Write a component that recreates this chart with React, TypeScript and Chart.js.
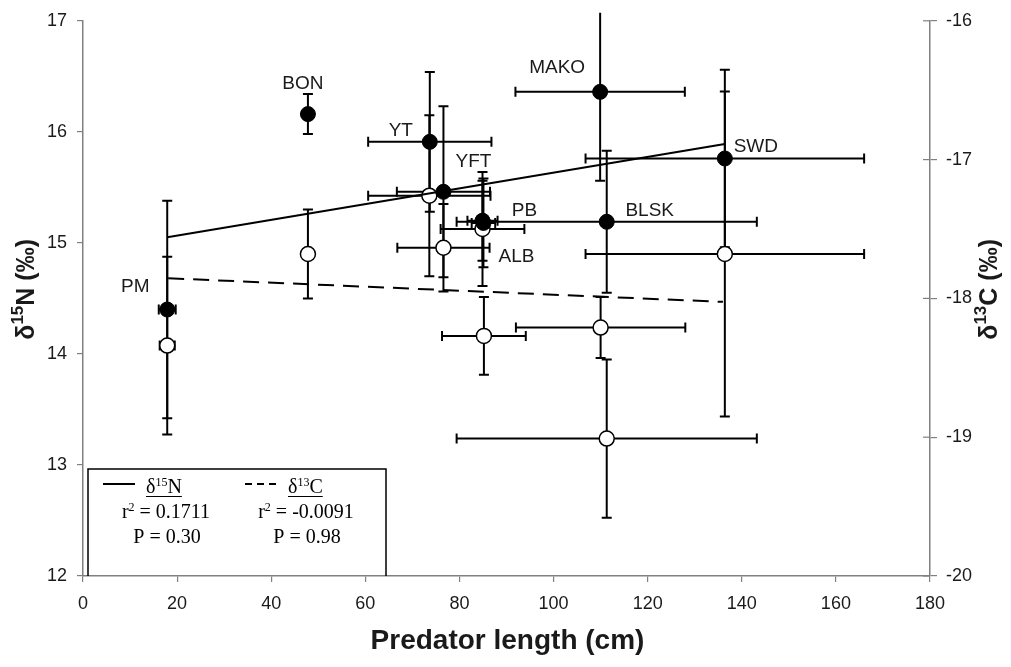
import React, { useEffect, useRef } from 'react';
import { Chart, registerables } from 'chart.js';

Chart.register(...registerables);

// ---------- data ----------
const species = ['PM', 'BON', 'YT', 'YFT', 'PB', 'ALB', 'MAKO', 'BLSK', 'SWD'];

// δ15N (filled circles, left axis)
const lengthN = [17.9, 47.8, 73.7, 76.6, 84.9, 85.1, 109.9, 111.3, 136.4];
const lengthErrN = [1.8, 0, 13.1, 9.9, 3.2, 2.5, 18.0, 31.9, 29.6];
const d15N = [14.4, 16.16, 15.91, 15.46, 15.2, 15.18, 16.36, 15.19, 15.76];
const d15NErr = [0.98, 0.18, 0.63, 0.77, 0.36, 0.4, 0.8, 0.64, 0.8];

// δ13C (open circles, right axis)
const lengthC = [17.9, 47.8, 73.6, 76.6, 84.9, 85.2, 110.0, 111.3, 136.4];
const lengthErrC = [1.6, 0, 13.0, 9.8, 8.9, 8.9, 18.0, 31.9, 29.6];
const d13C = [-18.34, -17.68, -17.26, -17.635, -17.5, -18.27, -18.21, -19.01, -17.68];
const d13CErr = [0.64, 0.32, 0.58, 0.315, 0.41, 0.28, 0.22, 0.57, 1.17];

// regression lines
const fitNx = [17.9, 136.4];
const fitNy = [15.05, 15.89];
const fitCx = [18.1, 136.0];
const fitCy = [-17.855, -18.025];

// axis ranges / ticks
const xTicks = [0, 20, 40, 60, 80, 100, 120, 140, 160, 180];
const yNTicks = [12, 13, 14, 15, 16, 17];
const yCTicks = [-20, -19, -18, -17, -16];

// legend texts
const legendN = { r2: '0.1711', p: '0.30' };
const legendC = { r2: '-0.0091', p: '0.98' };

// ---------- styles (pixel offsets for species labels) ----------
const labelOffsets: [number, number][] = [
  [-32, -23], [-5, -30], [-29, -11], [30, -30], [42, -10], [33, 34], [-43, -24], [43, -11], [31, -12],
];

const SANS = '"Liberation Sans", Arial, sans-serif';
const SERIF = '"Liberation Serif", "Times New Roman", serif';
const AXIS_GREY = '#808080';
const TEXT = '#1a1a1a';

type Part = { t: string; sup?: boolean };

function richWidth(ctx: CanvasRenderingContext2D, parts: Part[], size: number, weight: string, family: string, supRatio: number) {
  let w = 0;
  for (const p of parts) {
    ctx.font = `${weight} ${p.sup ? Math.round(size * supRatio) : size}px ${family}`;
    w += ctx.measureText(p.t).width;
  }
  return w;
}

function drawRich(
  ctx: CanvasRenderingContext2D,
  parts: Part[],
  x: number,
  y: number,
  size: number,
  weight: string,
  family: string,
  align: 'left' | 'center',
  supRatio = 0.62
) {
  const w = richWidth(ctx, parts, size, weight, family, supRatio);
  let cx = align === 'center' ? x - w / 2 : x;
  ctx.textAlign = 'left';
  for (const p of parts) {
    const s = p.sup ? Math.round(size * supRatio) : size;
    ctx.font = `${weight} ${s}px ${family}`;
    ctx.fillText(p.t, cx, p.sup ? y - size * 0.36 : y);
    cx += ctx.measureText(p.t).width;
  }
  return w;
}

const errorBarPlugin = {
  id: 'errorBars',
  beforeDatasetsDraw(chart: any) {
    const ctx: CanvasRenderingContext2D = chart.ctx;
    const xs = chart.scales.x;
    const cap = 5;
    ctx.save();
    ctx.beginPath();
    ctx.rect(0, chart.chartArea.top - 8, chart.width, chart.height);
    ctx.clip();
    ctx.strokeStyle = '#000';
    ctx.lineWidth = 2;
    chart.data.datasets.forEach((ds: any) => {
      if (!ds.errX) return;
      const ys = chart.scales[ds.yAxisID];
      ds.data.forEach((p: any, i: number) => {
        const cy = ys.getPixelForValue(p.y);
        const cx = xs.getPixelForValue(p.x);
        const ex = ds.errX[i];
        const ey = ds.errY[i];
        ctx.beginPath();
        if (ex > 0) {
          const x1 = xs.getPixelForValue(p.x - ex);
          const x2 = xs.getPixelForValue(p.x + ex);
          ctx.moveTo(x1, cy);
          ctx.lineTo(x2, cy);
          ctx.moveTo(x1, cy - cap);
          ctx.lineTo(x1, cy + cap);
          ctx.moveTo(x2, cy - cap);
          ctx.lineTo(x2, cy + cap);
        }
        if (ey > 0) {
          const y1 = ys.getPixelForValue(p.y + ey);
          const y2 = ys.getPixelForValue(p.y - ey);
          ctx.moveTo(cx, y1);
          ctx.lineTo(cx, y2);
          if (p.y + ey <= ys.max) {
            ctx.moveTo(cx - cap, y1);
            ctx.lineTo(cx + cap, y1);
          }
          ctx.moveTo(cx - cap, y2);
          ctx.lineTo(cx + cap, y2);
        }
        ctx.stroke();
      });
    });
    ctx.restore();
  },
};

const decorPlugin = {
  id: 'decor',
  afterDraw(chart: any) {
    const ctx: CanvasRenderingContext2D = chart.ctx;
    const area = chart.chartArea;
    const xs = chart.scales.x;
    const yN = chart.scales.y;
    const y2 = chart.scales.y2;
    ctx.save();

    // inward ticks on right axis
    ctx.strokeStyle = AXIS_GREY;
    ctx.lineWidth = 1.2;
    yCTicks.forEach((v) => {
      const py = y2.getPixelForValue(v);
      ctx.beginPath();
      ctx.moveTo(area.right - 7, py);
      ctx.lineTo(area.right, py);
      ctx.stroke();
    });

    // species labels
    ctx.fillStyle = TEXT;
    ctx.font = `19px ${SANS}`;
    ctx.textAlign = 'center';
    ctx.textBaseline = 'middle';
    species.forEach((s, i) => {
      const px = xs.getPixelForValue(lengthN[i]) + labelOffsets[i][0];
      const py = yN.getPixelForValue(d15N[i]) + labelOffsets[i][1];
      ctx.fillText(s, px, py);
    });

    // axis titles
    ctx.textBaseline = 'middle';
    ctx.fillStyle = TEXT;
    const midY = (area.top + area.bottom) / 2;
    ctx.save();
    ctx.translate(27, midY - 9);
    ctx.rotate(-Math.PI / 2);
    drawRich(ctx, [{ t: 'δ' }, { t: '15', sup: true }, { t: 'N (‰)' }], 0, 0, 25, 'bold', SANS, 'center', 0.68);
    ctx.restore();
    ctx.save();
    ctx.translate(990, midY - 9);
    ctx.rotate(-Math.PI / 2);
    drawRich(ctx, [{ t: 'δ' }, { t: '13', sup: true }, { t: 'C (‰)' }], 0, 0, 25, 'bold', SANS, 'center', 0.68);
    ctx.restore();
    ctx.font = `bold 28px ${SANS}`;
    ctx.textAlign = 'center';
    ctx.fillText('Predator length (cm)', (area.left + area.right) / 2 + 1, 641);

    // legend box
    const bx = area.left + 5;
    const by = area.bottom - 107;
    const bw = 298;
    ctx.strokeStyle = '#000';
    ctx.lineWidth = 1.5;
    ctx.beginPath();
    ctx.moveTo(bx, area.bottom);
    ctx.lineTo(bx, by);
    ctx.lineTo(bx + bw, by);
    ctx.lineTo(bx + bw, area.bottom);
    ctx.stroke();

    const lx = bx;
    ctx.lineWidth = 2;
    ctx.beginPath();
    ctx.moveTo(lx + 15, by + 15);
    ctx.lineTo(lx + 47, by + 15);
    ctx.stroke();
    ctx.setLineDash([7, 5]);
    ctx.beginPath();
    ctx.moveTo(lx + 157, by + 15);
    ctx.lineTo(lx + 189, by + 15);
    ctx.stroke();
    ctx.setLineDash([]);

    ctx.fillStyle = '#000';
    ctx.textBaseline = 'alphabetic';
    const wN = drawRich(ctx, [{ t: 'δ' }, { t: '15', sup: true }, { t: 'N' }], lx + 58, by + 24, 20, 'normal', SERIF, 'left');
    const wC = drawRich(ctx, [{ t: 'δ' }, { t: '13', sup: true }, { t: 'C' }], lx + 200, by + 24, 20, 'normal', SERIF, 'left');
    ctx.lineWidth = 1;
    ctx.beginPath();
    ctx.moveTo(lx + 58, by + 27.5);
    ctx.lineTo(lx + 58 + wN, by + 27.5);
    ctx.moveTo(lx + 200, by + 27.5);
    ctx.lineTo(lx + 200 + wC, by + 27.5);
    ctx.stroke();

    drawRich(ctx, [{ t: 'r' }, { t: '2', sup: true }, { t: ' = ' + legendN.r2 }], lx + 78, by + 49, 20, 'normal', SERIF, 'center');
    drawRich(ctx, [{ t: 'P = ' + legendN.p }], lx + 79, by + 74, 20, 'normal', SERIF, 'center');
    drawRich(ctx, [{ t: 'r' }, { t: '2', sup: true }, { t: ' = ' + legendC.r2 }], lx + 218, by + 49, 20, 'normal', SERIF, 'center');
    drawRich(ctx, [{ t: 'P = ' + legendC.p }], lx + 219, by + 74, 20, 'normal', SERIF, 'center');

    ctx.restore();
  },
};

export default function App() {
  const ref = useRef<HTMLCanvasElement | null>(null);

  useEffect(() => {
    if (!ref.current) return;
    const tickFont = { family: SANS, size: 18 };
    const chart = new Chart(ref.current, {
      type: 'scatter',
      data: {
        datasets: [
          {
            type: 'line',
            label: 'δ15N fit',
            data: fitNx.map((x, i) => ({ x, y: fitNy[i] })),
            yAxisID: 'y',
            borderColor: '#000',
            borderWidth: 2,
            pointRadius: 0,
            fill: false,
            order: 0,
          } as any,
          {
            type: 'line',
            label: 'δ13C fit',
            data: fitCx.map((x, i) => ({ x, y: fitCy[i] })),
            yAxisID: 'y2',
            borderColor: '#000',
            borderWidth: 2,
            borderDash: [16, 9],
            pointRadius: 0,
            fill: false,
            order: 0,
          } as any,
          {
            label: 'δ13C',
            data: lengthC.map((x, i) => ({ x, y: d13C[i] })),
            yAxisID: 'y2',
            errX: lengthErrC,
            errY: d13CErr,
            pointRadius: 7.5,
            pointBackgroundColor: '#fff',
            pointBorderColor: '#000',
            pointBorderWidth: 1.5,
            order: 2,
          } as any,
          {
            label: 'δ15N',
            data: lengthN.map((x, i) => ({ x, y: d15N[i] })),
            yAxisID: 'y',
            errX: lengthErrN,
            errY: d15NErr,
            pointRadius: 7.5,
            pointBackgroundColor: '#000',
            pointBorderColor: '#000',
            pointBorderWidth: 1,
            order: 1,
          } as any,
        ],
      },
      options: {
        animation: false,
        responsive: true,
        maintainAspectRatio: false,
        devicePixelRatio: 1,
        layout: { padding: { top: 19, left: 0, right: 0, bottom: 0 } },
        plugins: { legend: { display: false }, tooltip: { enabled: false } },
        scales: {
          x: {
            type: 'linear',
            min: xTicks[0],
            max: xTicks[xTicks.length - 1],
            afterBuildTicks: (s: any) => {
              s.ticks = xTicks.map((v) => ({ value: v }));
            },
            afterFit: (s: any) => {
              s.height = 91;
            },
            ticks: { font: tickFont, color: TEXT, padding: 11, maxRotation: 0 },
            grid: { display: true, drawOnChartArea: false, drawTicks: true, tickLength: 6, color: AXIS_GREY, lineWidth: 1.2 },
            border: { display: true, color: AXIS_GREY, width: 1.5 },
          },
          y: {
            type: 'linear',
            position: 'left',
            min: 12,
            max: 17,
            afterBuildTicks: (s: any) => {
              s.ticks = yNTicks.map((v) => ({ value: v }));
            },
            afterFit: (s: any) => {
              s.width = 83;
            },
            ticks: { font: tickFont, color: TEXT, padding: 10 },
            grid: { display: true, drawOnChartArea: false, drawTicks: true, tickLength: 6, color: AXIS_GREY, lineWidth: 1.2 },
            border: { display: true, color: AXIS_GREY, width: 1.5 },
          },
          y2: {
            type: 'linear',
            position: 'right',
            min: -20,
            max: -16,
            afterBuildTicks: (s: any) => {
              s.ticks = yCTicks.map((v) => ({ value: v }));
            },
            afterFit: (s: any) => {
              s.width = 81;
            },
            ticks: { font: tickFont, color: TEXT, padding: 9 },
            grid: { display: true, drawOnChartArea: false, drawTicks: true, tickLength: 7, color: AXIS_GREY, lineWidth: 1.2 },
            border: { display: true, color: AXIS_GREY, width: 1.5 },
          },
        },
      } as any,
      plugins: [errorBarPlugin, decorPlugin],
    });
    return () => chart.destroy();
  }, []);

  return (
    <div style={{ position: 'absolute', left: 0, top: 0, width: 1011, height: 667, background: '#fff' }}>
      <canvas ref={ref} />
    </div>
  );
}
